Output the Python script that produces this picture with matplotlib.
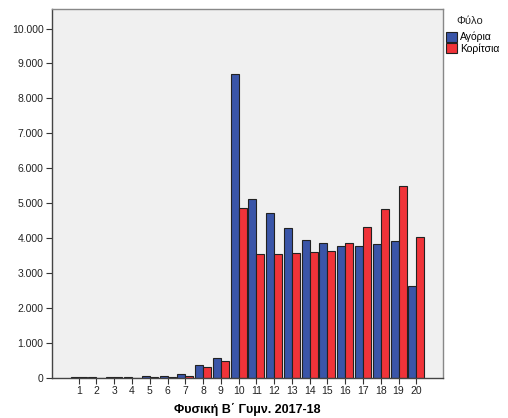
import numpy as np
import matplotlib
matplotlib.use("Agg")
import matplotlib.pyplot as plt
from matplotlib.patches import Patch
from matplotlib.ticker import FuncFormatter

plt.rcParams['font.family'] = ['Liberation Sans', 'DejaVu Sans']

grades = list(range(1, 21))
boys = [40, 20, 40, 30, 65, 55, 105, 365, 575, 8700,
        5120, 4730, 4280, 3935, 3850, 3770, 3770, 3830, 3925, 2625]
girls = [15, 10, 15, 10, 30, 30, 57, 305, 478, 4860,
         3535, 3560, 3590, 3610, 3630, 3860, 4315, 4840, 5490, 4040]
series_names = ['Αγόρια', 'Κορίτσια']
colors = ['#3a55a8', '#f03339']
y_ticks = list(range(0, 10001, 1000))

fig = plt.figure(figsize=(5.08, 4.18), dpi=100)
ax = fig.add_axes([0.1024, 0.0957, 0.7696, 0.8828])
ax.set_facecolor('#f0f0f0')

x = np.arange(len(grades))
w = 0.45
ax.bar(x - w / 2, boys, width=w, color=colors[0], edgecolor='#222222', linewidth=0.8)
ax.bar(x + w / 2, girls, width=w, color=colors[1], edgecolor='#222222', linewidth=0.8)

ax.set_xlim(-1.5, len(grades) + 0.5)
ax.set_ylim(0, 10560)
ax.set_xticks(x)
ax.set_xticklabels([str(g) for g in grades])
ax.set_yticks(y_ticks)
ax.yaxis.set_major_formatter(FuncFormatter(lambda v, p: f"{int(v):,}".replace(',', '.')))
ax.tick_params(axis='both', labelsize=7.5, length=4, width=0.8, color='#333333',
               labelcolor='#222222', pad=2)

for side in ['top', 'right']:
    ax.spines[side].set_color('#888888')
    ax.spines[side].set_linewidth(1.0)
for side in ['left', 'bottom']:
    ax.spines[side].set_color('#444444')
    ax.spines[side].set_linewidth(1.0)

ax.set_xlabel('Φυσική Β΄ Γυμν. 2017-18', fontsize=9, fontweight='bold', labelpad=5)

# legend: title drawn separately to get the wider gap seen in the original
fig.text(0.925, 0.95, 'Φύλο', fontsize=8, ha='center', va='center', color='#222222')
handles = [Patch(facecolor=c, edgecolor='#222222', linewidth=0.8) for c in colors]
fig.legend(handles, series_names, loc='upper left',
           bbox_to_anchor=(0.864, 0.942), frameon=False, fontsize=7.5,
           handlelength=1.0, handleheight=1.1,
           handletextpad=0.3, labelspacing=0.1, borderpad=0.2)

fig.savefig('out.png', dpi=100, facecolor='white')
